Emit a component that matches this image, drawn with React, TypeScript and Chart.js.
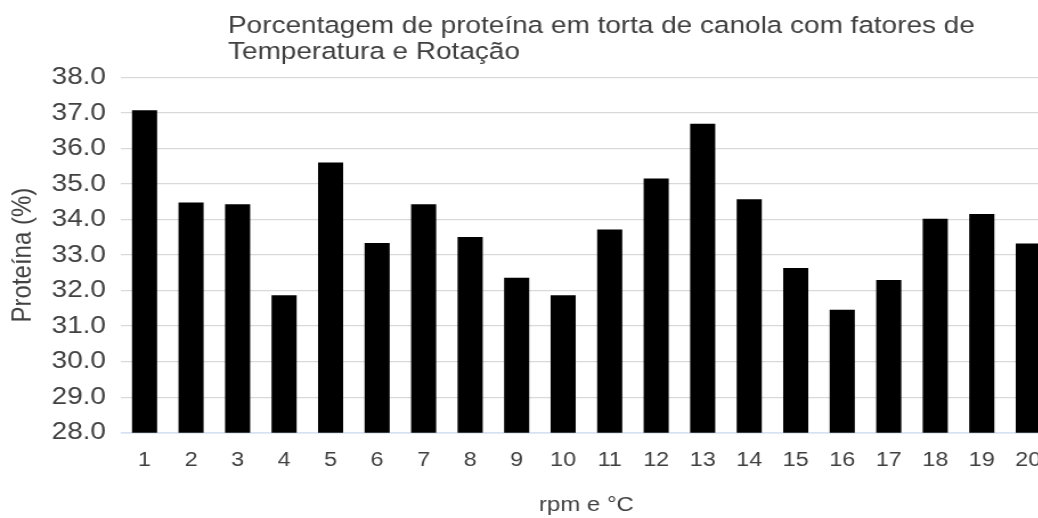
import React, { useEffect, useRef } from "react";
import { Chart, registerables } from "chart.js";

Chart.register(...registerables);

const categories: string[] = [
  "1", "2", "3", "4", "5", "6", "7", "8", "9", "10",
  "11", "12", "13", "14", "15", "16", "17", "18", "19", "20",
];
const protein: number[] = [
  37.08, 34.48, 34.43, 31.87, 35.61, 33.34, 34.43, 33.51, 32.36, 31.87,
  33.72, 35.16, 36.7, 34.57, 32.64, 31.46, 32.3, 34.02, 34.16, 33.33,
];
const titleLines: string[] = [
  "Porcentagem de proteína em torta de canola com fatores de",
  "Temperatura e Rotação",
];
const yTitle = "Proteína (%)";
const xTitle = "rpm e °C";
const yMin = 28;
const yMax = 38;
const yStep = 1;

const SX = 1.14; // horizontal stretch of the reference rendering
const INNER_W = 930;
const H = 518;

export default function App() {
  const ref = useRef<HTMLCanvasElement | null>(null);

  useEffect(() => {
    if (!ref.current) return;
    const text = "#404040";
    const family = "'Liberation Sans', Arial, Helvetica, sans-serif";
    const titleShift = {
      id: "titleShift",
      afterLayout(chart: any) {
        if (chart.titleBlock) chart.titleBlock.left = 200;
      },
    };
    const chart = new Chart(ref.current, {
      type: "bar",
      data: {
        labels: categories,
        datasets: [
          {
            label: yTitle,
            data: protein,
            backgroundColor: "#000000",
            borderWidth: 0,
            barPercentage: 0.54,
            categoryPercentage: 1,
          },
        ],
      },
      plugins: [titleShift],
      options: {
        animation: false,
        responsive: true,
        maintainAspectRatio: false,
        layout: { padding: { left: 0, right: 7.6, top: 0, bottom: 0 } },
        plugins: {
          legend: { display: false },
          tooltip: { enabled: false },
          title: {
            display: true,
            text: titleLines,
            align: "start",
            color: text,
            font: { family, size: 24.5, weight: "normal", lineHeight: 26 / 24.5 },
            padding: { top: 13.6, bottom: 11.9 },
          },
        },
        scales: {
          x: {
            grid: { display: false, drawTicks: false },
            border: { display: true, color: "#d6e2f2", width: 1.5 },
            ticks: {
              color: text,
              font: { family, size: 20.5, lineHeight: 1.2 },
              padding: 15.5,
              maxRotation: 0,
              autoSkip: false,
            },
            title: {
              display: true,
              text: xTitle,
              color: text,
              font: { family, size: 21, lineHeight: 1.2 },
              padding: { top: 0, bottom: 0.2 },
            },
            afterFit(scale: any) {
              scale.height = 85.3;
            },
          },
          y: {
            min: yMin,
            max: yMax,
            grid: { color: "#d9d9d9", lineWidth: 1.3, drawTicks: false },
            border: { display: false },
            ticks: {
              stepSize: yStep,
              color: text,
              font: { family, size: 24.5 },
              padding: 13.4,
              callback: (v: any) => Number(v).toFixed(1),
            },
            title: {
              display: true,
              text: yTitle,
              color: text,
              font: { family, size: 24, lineHeight: 1.2 },
              padding: { top: 5.8, bottom: 0 },
            },
            afterFit(scale: any) {
              scale.width = 106.4;
            },
          },
        },
      },
    });
    return () => chart.destroy();
  }, []);

  return (
    <div
      style={{
        position: "fixed",
        left: 0,
        top: 0,
        width: 1038,
        height: H,
        overflow: "hidden",
        background: "#ffffff",
      }}
    >
      <div
        style={{
          position: "relative",
          width: INNER_W,
          height: H,
          transform: `scaleX(${SX})`,
          transformOrigin: "0 0",
        }}
      >
        <canvas ref={ref} />
      </div>
    </div>
  );
}
